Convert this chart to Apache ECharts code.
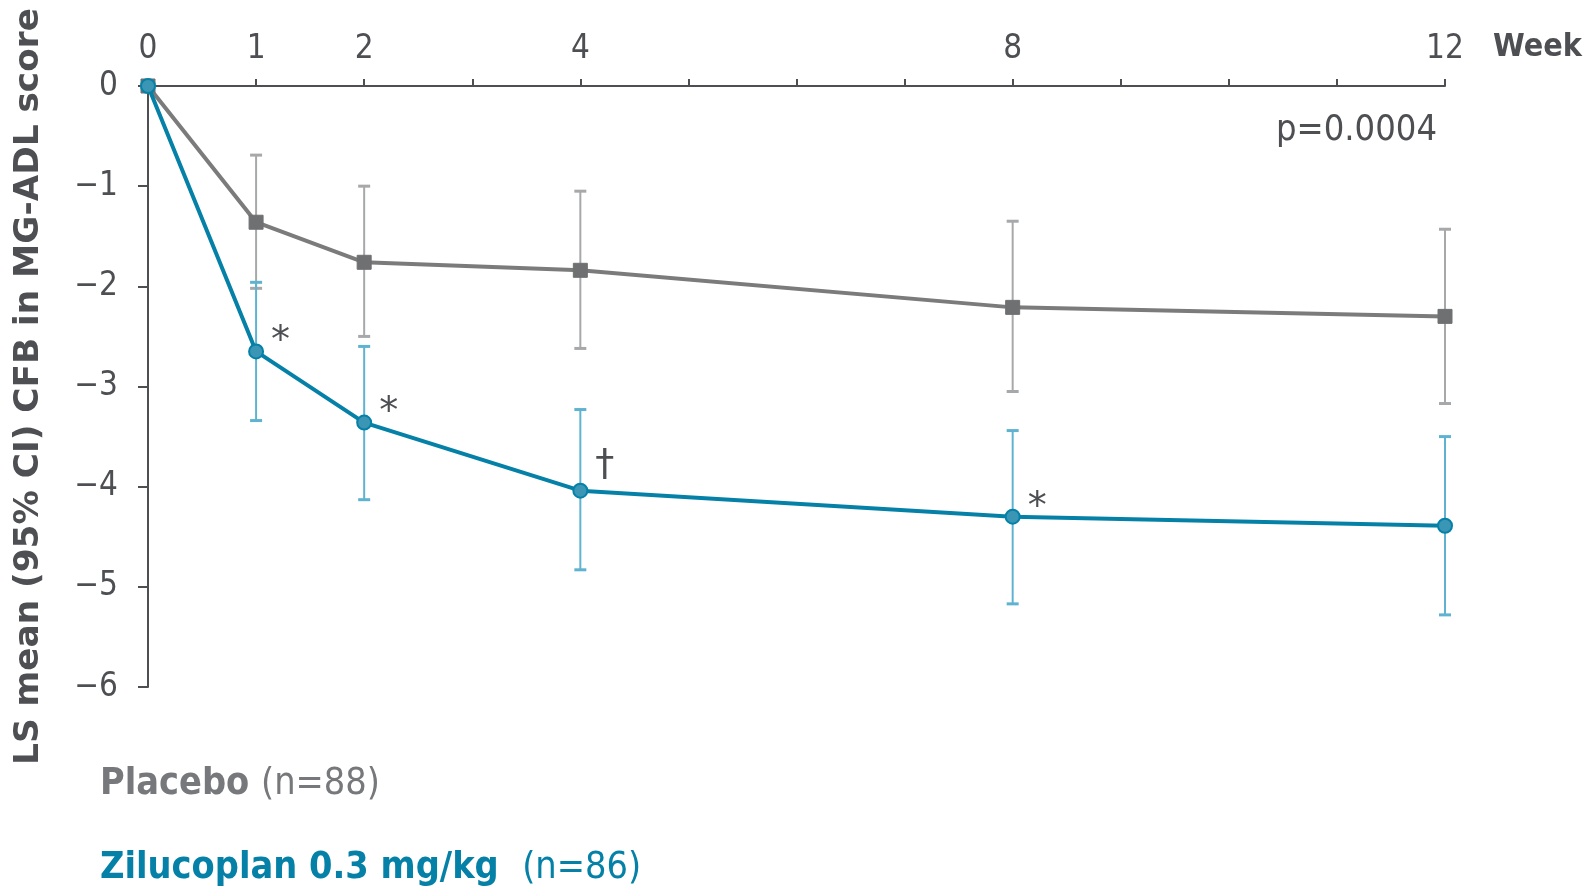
<!DOCTYPE html>
<html>
<head>
<meta charset="utf-8">
<script src="https://cdn.jsdelivr.net/npm/echarts@6/dist/echarts.min.js"></script>
<style>
html,body{margin:0;padding:0;background:#fff;}
#chart{width:1590px;height:886px;}
</style>
</head>
<body>
<div id="chart"></div>
<script>
const weeks = [0, 1, 2, 4, 8, 12];
const xTickLabels = [0, 1, 2, 4, 8, 12];
const placeboMean = [0, -1.36, -1.76, -1.84, -2.21, -2.30];
const placeboLow  = [0, -2.02, -2.50, -2.62, -3.05, -3.17];
const placeboHigh = [0, -0.69, -1.00, -1.05, -1.35, -1.43];
const ziluMean = [0, -2.65, -3.36, -4.04, -4.30, -4.39];
const ziluLow  = [0, -3.34, -4.13, -4.83, -5.17, -5.28];
const ziluHigh = [0, -1.96, -2.60, -3.23, -3.44, -3.50];
const ziluAnnot = ['', '*', '*', '\u2020', '*', ''];
const pValueText = 'p=0.0004';
const yAxisTitle = 'LS mean (95% CI) CFB in MG-ADL score';
const xAxisTitle = 'Week';
const placeboLegend = ['Placebo ', '(n=88)'];
const ziluLegend = ['Zilucoplan 0.3 mg/kg  ', '(n=86)'];

const AXIS = '#4d4f53';
const GREY_LINE = '#7b7b7c';
const GREY_MARK = '#6f7072';
const GREY_ERR = '#a7a8aa';
const GREY_TEXT = '#77787b';
const TEAL = '#0581a8';
const TEAL_MARK = '#3b96b6';
const TEAL_ERR = '#5fb3d1';
const COND = '"DejaVu Sans Condensed","Liberation Sans Narrow","DejaVu Sans",sans-serif';

function errData(low, high) {
  return weeks.map((w, i) => [w, low[i], high[i]]);
}
function errRender(color) {
  return function (params, api) {
    const x = api.value(0), lo = api.value(1), hi = api.value(2);
    if (lo === hi) return { type: 'group', children: [] };
    const pLo = api.coord([x, lo]);
    const pHi = api.coord([x, hi]);
    const cap = 6;
    return {
      type: 'group',
      children: [
        { type: 'line', shape: { x1: pLo[0], y1: pLo[1], x2: pHi[0], y2: pHi[1] }, style: { stroke: color, lineWidth: 2 } },
        { type: 'line', shape: { x1: pLo[0] - cap, y1: pLo[1], x2: pLo[0] + cap, y2: pLo[1] }, style: { stroke: color, lineWidth: 3 } },
        { type: 'line', shape: { x1: pHi[0] - cap, y1: pHi[1], x2: pHi[0] + cap, y2: pHi[1] }, style: { stroke: color, lineWidth: 3 } }
      ]
    };
  };
}

// annotation offsets depend on the glyph (style only)
function annotOffset(ch) { return ch === '\u2020' ? [0, -26] : [0, -9]; }

const ziluData = weeks.map((w, i) => ({
  value: [w, ziluMean[i]],
  label: { offset: annotOffset(ziluAnnot[i]) }
}));

const chart = echarts.init(document.getElementById('chart'));
chart.setOption({
  animation: false,
  backgroundColor: '#fff',
  grid: { left: 148, right: 145, top: 86, bottom: 199 },
  xAxis: {
    type: 'value', position: 'top', min: 0, max: 12, interval: 1,
    axisLine: { show: true, lineStyle: { color: AXIS, width: 2 } },
    axisTick: { show: true, length: 7, lineStyle: { color: AXIS, width: 2 } },
    splitLine: { show: false },
    axisLabel: {
      margin: 20, color: AXIS, fontSize: 33, fontFamily: COND,
      formatter: v => xTickLabels.indexOf(v) >= 0 ? String(v) : ''
    }
  },
  yAxis: {
    type: 'value', min: -6, max: 0, interval: 1,
    name: yAxisTitle, nameLocation: 'middle', nameGap: 102,
    nameTextStyle: { color: AXIS, fontSize: 34.3, fontWeight: 'bold', fontFamily: '"DejaVu Sans",sans-serif' },
    axisLine: { show: true, onZero: false, lineStyle: { color: AXIS, width: 2 } },
    axisTick: { show: true, length: 10, lineStyle: { color: AXIS, width: 2 } },
    splitLine: { show: false },
    axisLabel: {
      margin: 30, color: AXIS, fontSize: 33, fontFamily: COND,
      formatter: v => String(v).replace('-', '\u2212')
    }
  },
  series: [
    { type: 'custom', name: 'placeboErr', data: errData(placeboLow, placeboHigh), renderItem: errRender(GREY_ERR), z: 1 },
    { type: 'custom', name: 'ziluErr', data: errData(ziluLow, ziluHigh), renderItem: errRender(TEAL_ERR), z: 1 },
    {
      type: 'line', name: 'Placebo', data: weeks.map((w, i) => [w, placeboMean[i]]),
      symbol: 'rect', symbolSize: 14,
      lineStyle: { color: GREY_LINE, width: 4 },
      itemStyle: { color: GREY_MARK, borderColor: GREY_MARK, borderWidth: 1 },
      z: 3
    },
    {
      type: 'line', name: 'Zilucoplan', data: ziluData,
      symbol: 'circle', symbolSize: 14,
      lineStyle: { color: TEAL, width: 4 },
      itemStyle: { color: TEAL_MARK, borderColor: TEAL, borderWidth: 2 },
      label: {
        show: true, position: 'right', distance: 7,
        color: AXIS, fontSize: 38, fontFamily: '"DejaVu Sans",sans-serif',
        formatter: p => ziluAnnot[p.dataIndex]
      },
      z: 4
    }
  ],
  graphic: [
    { type: 'text', left: 1493, top: 32, style: { text: xAxisTitle, fill: AXIS, font: 'bold 32px "DejaVu Sans Condensed","DejaVu Sans",sans-serif' } },
    { type: 'text', right: 153, top: 113, style: { text: pValueText, fill: AXIS, font: '36px ' + COND } },
    { type: 'text', left: 100, top: 765, style: {
        text: '{b|' + placeboLegend[0] + '}{r|' + placeboLegend[1] + '}',
        rich: {
          b: { fill: GREY_TEXT, font: 'bold 37.5px ' + COND },
          r: { fill: GREY_TEXT, font: '37.5px ' + COND }
        }
    } },
    { type: 'text', left: 100, top: 849, style: {
        text: '{b|' + ziluLegend[0] + '}{r|' + ziluLegend[1] + '}',
        rich: {
          b: { fill: TEAL, font: 'bold 37.5px ' + COND },
          r: { fill: TEAL, font: '37.5px ' + COND }
        }
    } }
  ]
});
</script>
</body>
</html>
